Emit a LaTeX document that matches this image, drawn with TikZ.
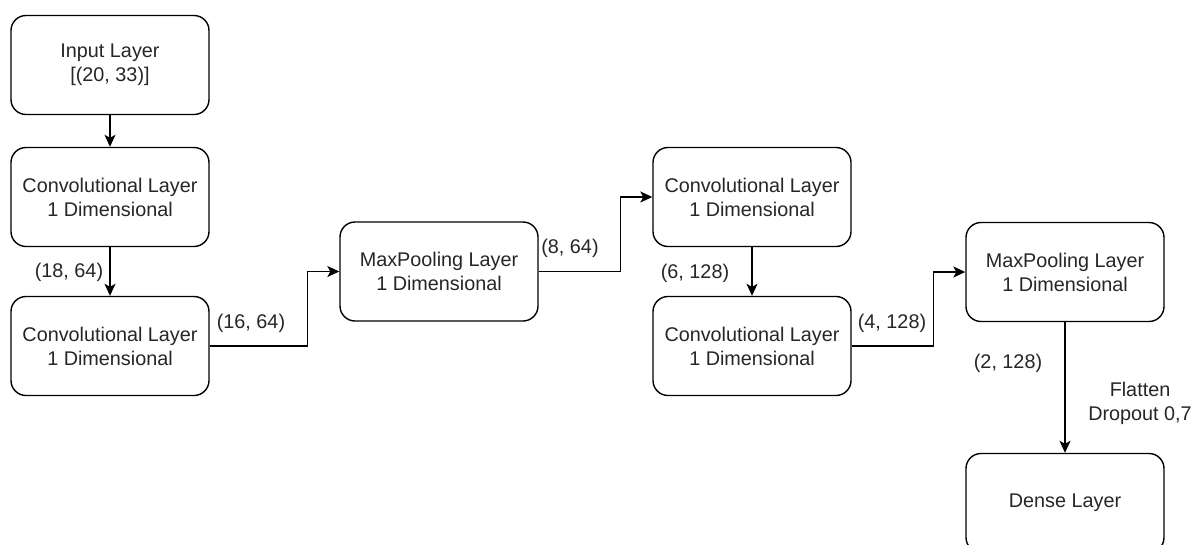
\documentclass[tikz,border=0pt]{standalone}
\usepackage{fontspec}
\setmainfont{Liberation Sans}
\usetikzlibrary{arrows.meta}
\begin{document}
\begin{tikzpicture}[x=1pt,y=-1pt,
  layer/.style={draw=black, line width=1.4pt, rounded corners=15pt, fill=white,
    minimum width=198pt, minimum height=99pt, inner sep=0pt, align=center,
    font=\fontsize{19.8}{24}\selectfont, text=black!85},
  lbl/.style={inner sep=0pt, align=center, font=\fontsize{19.8}{24}\selectfont, text=black!85},
  conn/.style={line width=1.4pt, -{Stealth[length=12pt,width=11pt,inset=3pt]}}]
\fill[white] (0,0) rectangle (1198,544);
\clip (0,0) rectangle (1198,544);

\node[layer] (in) at (110,65) {Input Layer\\{[}(20, 33)]};
\node[layer] (c1) at (110,197) {Convolutional Layer\\1 Dimensional};
\node[layer] (c2) at (110,346) {Convolutional Layer\\1 Dimensional};
\node[layer] (m1) at (439,271.5) {MaxPooling Layer\\1 Dimensional};
\node[layer] (c3) at (752,197) {Convolutional Layer\\1 Dimensional};
\node[layer] (c4) at (752,346) {Convolutional Layer\\1 Dimensional};
\node[layer] (m2) at (1065,272) {MaxPooling Layer\\1 Dimensional};
\node[layer] (d) at (1065,503) {Dense Layer};

\draw[conn] (in.south) -- (c1.north);
\draw[conn] (c1.south) -- (c2.north);
\draw[conn] (c2.east) -- ++(98,0) |- (m1.west);
\draw[conn] (m1.east) -- ++(82,0) |- (c3.west);
\draw[conn] (c3.south) -- (c4.north);
\draw[conn] (c4.east) -- ++(82,0) |- (m2.west);
\draw[conn] (m2.south) -- (d.north);

\node[lbl] (l1) at (69,272) {(18, 64)};
\node[lbl] (l2) at (251,323) {(16, 64)};
\node[lbl] (l3) at (570,248) {(8, 64)};
\node[lbl] (l4) at (695,273) {(6, 128)};
\node[lbl] (l5) at (892,323) {(4, 128)};
\node[lbl] (l6) at (1008,363) {(2, 128)};
\node[lbl] (l7) at (1140,403) {Flatten\\Dropout 0,7};
\end{tikzpicture}
\end{document}
